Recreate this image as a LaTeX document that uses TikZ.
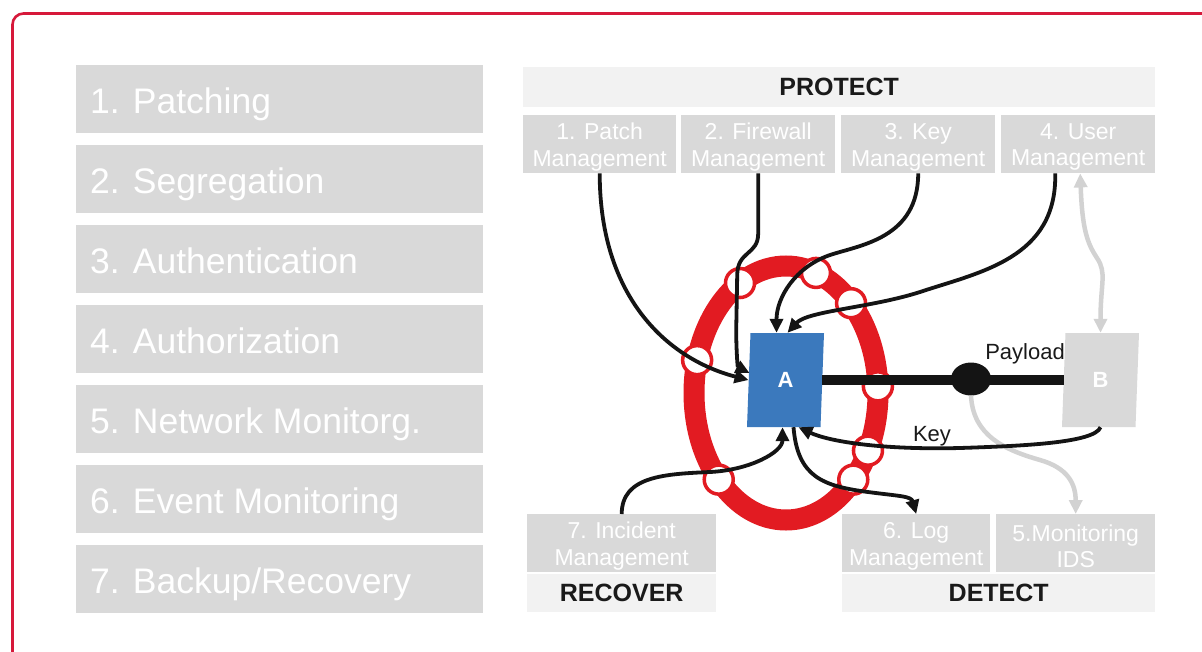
\documentclass[tikz,border=0pt]{standalone}
\usepackage{fontspec}
\setmainfont{Liberation Sans}
\usetikzlibrary{arrows.meta,shapes.geometric,calc}

\definecolor{framered}{RGB}{214,24,58}
\definecolor{ringred}{RGB}{226,27,34}
\definecolor{boxgray}{RGB}{217,217,217}
\definecolor{bargray}{RGB}{242,242,242}
\definecolor{titlegray}{RGB}{26,26,26}
\definecolor{ablue}{RGB}{59,121,189}
\definecolor{linkgray}{RGB}{210,210,210}

\tikzset{
  lbox/.style={fill=boxgray, anchor=north west, minimum height=68pt,
    minimum width=407pt, inner sep=0pt},
  ltext/.style={text=white, anchor=base west, inner sep=0pt,
    font=\fontsize{35.5}{40}\selectfont},
  sbox/.style={fill=boxgray, anchor=north west, minimum height=58pt, inner sep=0pt},
  stext/.style={text=white, inner sep=0pt, align=center, yshift=-3pt,
    font=\fontsize{23}{26.5}\selectfont},
  bar/.style={fill=bargray, text=titlegray, anchor=north west, inner sep=0pt,
    font=\bfseries\fontsize{25}{28}\selectfont},
  para/.style={trapezium, trapezium left angle=77, trapezium right angle=103,
    minimum width=77pt, minimum height=94pt, trapezium stretches body,
    inner sep=0pt, text=white, font=\bfseries\fontsize{22}{24}\selectfont},
  ringdot/.style={circle, draw=ringred, line width=3.5pt, fill=white,
    minimum size=29pt, inner sep=0pt},
  lbl/.style={text=titlegray, inner sep=0pt, font=\fontsize{22}{24}\selectfont},
  blk/.style={draw=black!92, line width=3.8pt,
    -{Triangle[length=14pt,width=13pt]}},
  gry/.style={draw=linkgray, line width=4.5pt,
    -{Triangle[length=14pt,width=13pt]}},
}

\begin{document}
\begin{tikzpicture}[x=1pt,y=-1pt]
\useasboundingbox (0,0) rectangle (1202,651);
\clip (0,0) rectangle (1202,651);
\fill[white] (0,0) rectangle (1202,651);

% outer frame, open towards the right and bottom edges
\draw[framered, line width=2.6pt, rounded corners=11pt] (12.5,13.5) rectangle (1240,700);

% list of measures
\foreach \i/\t in {1/{1. Patching}, 2/{2. Segregation}, 3/{3. Authentication},
  4/{4. Authorization}, 5/{5. Network Monitorg.}, 6/{6. Event Monitoring},
  7/{7. Backup/Recovery}}
{
  \node[lbox] (s\i) at (76,{65+80*(\i-1)}) {};
  \node[ltext] (t\i) at ($(s\i.west)+(14,14)$) {\t};
}

% protect header and its four processes
\node[bar, minimum width=632pt, minimum height=40pt] (protect) at (523,67) {PROTECT};
\node[sbox, minimum width=153pt, label={[stext]center:1. Patch\\Management}] (pm) at (523,115) {};
\node[sbox, minimum width=154pt, label={[stext]center:2. Firewall\\Management}] (fm) at (681,115) {};
\node[sbox, minimum width=154pt, label={[stext]center:3. Key\\Management}] (km) at (841,115) {};
\node[sbox, minimum width=154pt, label={[stext]center:4. User\\Management}] (um) at (1001,115) {};

% recover and detect footers
\node[sbox, minimum width=189pt, label={[stext]center:7. Incident\\Management}] (im) at (527,514) {};
\node[bar, minimum width=189pt, minimum height=38pt] (recover) at (527,574) {RECOVER};
\node[sbox, minimum width=148pt, label={[stext]center:6. Log\\Management}] (lm) at (842,514) {};
\node[sbox, minimum width=159pt, label={[stext]center:5.Monitoring\\IDS}] (mi) at (996,514) {};
\node[bar, minimum width=313pt, minimum height=38pt] (detect) at (842,574) {DETECT};

% protection ring with its openings
\draw[ringred, line width=21pt] (786,393) ellipse [x radius=92, y radius=127];
\foreach \a [count=\k] in {120,71,45,165,3,-27,-43,223}
  \node[ringdot] (r\k) at ({786+92*cos(\a)},{393-127*sin(\a)}) {};

% endpoints and payload channel
\node[para, fill=ablue] (A) at (785.5,380) {A};
\node[para, fill=boxgray] (B) at (1100.5,380) {B};
\draw[black!92, line width=9.5pt] (A.east) -- (B.west);
\node[ellipse, fill=black!92, minimum width=40pt, minimum height=33pt, inner sep=0pt] (E) at (971,379) {};
\node[lbl] (pay) at (1025,354) {Payload};
\node[lbl] (keylbl) at (932,436) {Key};

% light links
\draw[gry, {Triangle[length=14pt,width=13pt]}-{Triangle[length=14pt,width=13pt]}]
  ($(um.south)+(2,0)$) .. controls +(2,55) and +(-10,-15) .. (1097,258)
  .. controls +(10,15) and +(0,-50) .. (B.north);
\draw[gry] (E.south) .. controls +(2,40) and +(-35,-10) .. (1040,460)
  .. controls +(28,8) and +(0,-30) .. (mi.north);

% process links into and out of A
\draw[blk] (pm.south) .. controls +(0,127) and +(-78,-20) .. (A.west);
\draw[blk] (fm.south) -- ++(0,60) .. controls +(0,22) and +(0,-25) .. ++(-21,42)
  -- ++(-1,55) .. controls +(0,18) and +(-12,-6) .. ($(A.west)+(1,-7)$);
\draw[blk] (km.south) .. controls +(0,65) and +(30,-10) .. (830,255)
  .. controls +(-35,12) and +(0,-35) .. ($(A.north)+(-9,0)$);
\draw[blk] ($(um.south)+(-23,0)$) .. controls +(2,85) and +(60,-20) .. (920,292)
  .. controls +(-50,16) and +(20,-22) .. ($(A.north)+(2,0)$);
\draw[blk] (im.north) .. controls +(0,-38) and +(-45,2) .. (710,472)
  .. controls +(40,-2) and +(0,25) .. ($(A.south)+(-3,0)$);
\draw[blk] ($(A.south)+(8,0)$) .. controls +(4,50) and +(-45,-6) .. (868,492)
  .. controls +(30,4) and +(-5,-18) .. (lm.north);
\draw[blk] (B.south) .. controls +(-6,16) and +(60,-2) .. (960,448)
  .. controls +(-80,2) and +(30,14) .. ($(A.south)+(13,0)$);
\end{tikzpicture}
\end{document}
